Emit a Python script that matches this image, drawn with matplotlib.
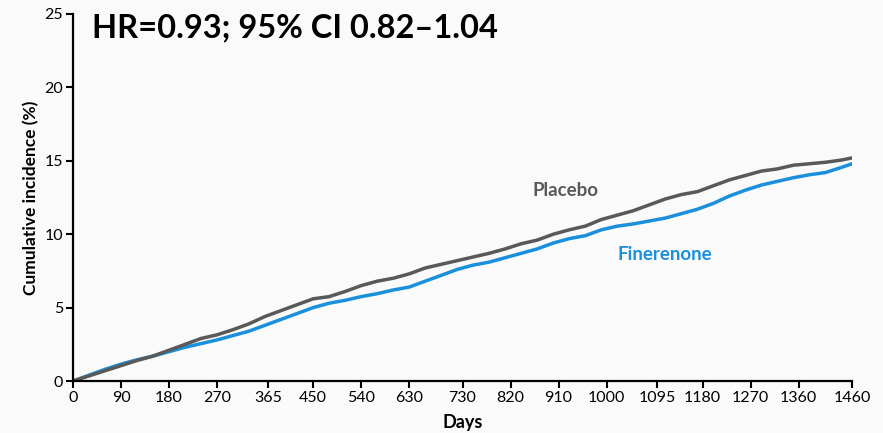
import matplotlib
matplotlib.use("Agg")
import matplotlib.pyplot as plt

plt.rcParams['font.family'] = ['Lato', 'DejaVu Sans']

# cumulative incidence (%) read at 30-day steps
days = [0, 30, 60, 90, 120, 150, 180, 210, 240, 270, 300, 330, 360, 390, 420,
        450, 480, 510, 540, 570, 600, 630, 660, 690, 720, 750, 780, 810, 840,
        870, 900, 930, 960, 990, 1020, 1050, 1080, 1110, 1140, 1170, 1200,
        1230, 1260, 1290, 1320, 1350, 1380, 1410, 1440, 1460]
placebo = [0, 0.35, 0.7, 1.05, 1.4, 1.7, 2.1, 2.5, 2.9, 3.15, 3.5, 3.9, 4.4,
           4.8, 5.2, 5.6, 5.75, 6.1, 6.5, 6.8, 7.0, 7.3, 7.7, 7.95, 8.2, 8.45,
           8.7, 9.0, 9.35, 9.6, 10.0, 10.3, 10.55, 11.0, 11.3, 11.6, 12.0,
           12.4, 12.7, 12.9, 13.3, 13.7, 14.0, 14.3, 14.45, 14.7, 14.8, 14.9,
           15.05, 15.2]
finerenone = [0, 0.4, 0.8, 1.15, 1.45, 1.7, 2.0, 2.3, 2.55, 2.8, 3.1, 3.4, 3.8,
              4.2, 4.6, 5.0, 5.3, 5.5, 5.75, 5.95, 6.2, 6.4, 6.8, 7.2, 7.6, 7.9,
              8.1, 8.4, 8.7, 9.0, 9.4, 9.7, 9.9, 10.3, 10.55, 10.7, 10.9, 11.1,
              11.4, 11.7, 12.1, 12.6, 13.0, 13.35, 13.6, 13.85, 14.05, 14.2,
              14.55, 14.8]

xticks = [0, 90, 180, 270, 365, 450, 540, 630, 730, 820, 910, 1000, 1095,
          1180, 1270, 1360, 1460]
yticks = [0, 5, 10, 15, 20, 25]

c_placebo = '#595959'
c_fine = '#1a90dc'
bg = '#fafafa'

fig = plt.figure(figsize=(8.83, 4.33), dpi=100, facecolor=bg)
ax = fig.add_axes([0.0827, 0.120, 0.8823, 0.8477], facecolor=bg)

ax.plot(days, finerenone, color=c_fine, lw=2.5, solid_joinstyle='miter')
ax.plot(days, placebo, color=c_placebo, lw=2.5, solid_joinstyle='miter')

ax.set_xlim(0, 1460)
ax.set_ylim(0, 25)
ax.set_xticks(xticks)
ax.set_yticks(yticks)
ax.tick_params(direction='out', length=5, width=1.5, labelsize=11.5,
               pad=2, colors='black')
for side in ('top', 'right'):
    ax.spines[side].set_visible(False)
for side in ('left', 'bottom'):
    ax.spines[side].set_linewidth(1.6)

ax.set_xlabel('Days', fontsize=13, fontweight='bold', labelpad=7)
ax.set_ylabel('Cumulative incidence (%)', fontsize=12.5, fontweight='bold',
              labelpad=4)

ax.text(922, 13.0, 'Placebo', color=c_placebo, fontsize=13.5,
        fontweight='bold', ha='center', va='center')
ax.text(1109, 8.6, 'Finerenone', color=c_fine, fontsize=13.5,
        fontweight='bold', ha='center', va='center')
ax.text(0.024, 0.963, 'HR=0.93; 95% CI 0.82\u20131.04', transform=ax.transAxes,
        fontsize=23.5, fontweight='bold', ha='left', va='center')

fig.savefig('out.png', dpi=100, facecolor=bg)
